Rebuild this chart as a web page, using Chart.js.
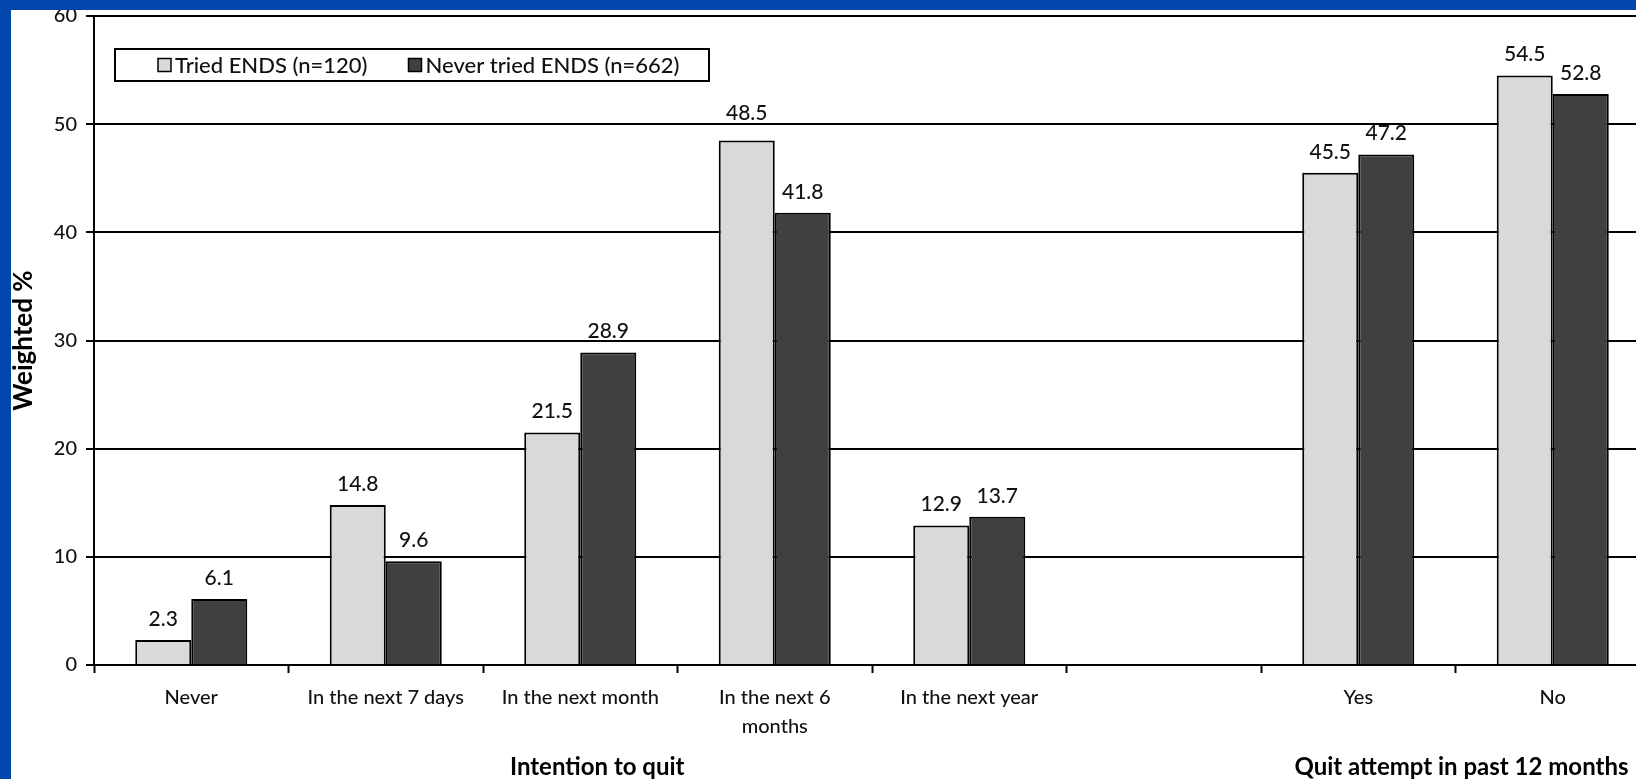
<!DOCTYPE html>
<html>
<head>
<meta charset="utf-8">
<script src="https://cdn.jsdelivr.net/npm/chart.js@4.4.1/dist/chart.umd.min.js"></script>
<style>
html, body { margin:0; padding:0; width:1636px; height:779px; overflow:hidden; background:#0346ab; }
#wrap { position:absolute; left:11px; top:0; width:1625px; height:779px; overflow:hidden; background:#fff; }
#topbar { position:absolute; left:0; top:0; width:1636px; height:10px; background:#0346ab; z-index:2; }
canvas { display:block; position:relative; top:-5px; }
</style>
</head>
<body>
<div id="wrap"><canvas id="myChart" width="1645" height="784"></canvas></div>
<div id="topbar"></div>
<script>
// categorias del eje x
var categorias = ['Never', 'In the next 7 days', 'In the next month', ['In the next 6', 'months'], 'In the next year', '', 'Yes', 'No'];
// series
var triedENDS = [2.3, 14.8, 21.5, 48.5, 12.9, null, 45.5, 54.5];
var neverTriedENDS = [6.1, 9.6, 28.9, 41.8, 13.7, null, 47.2, 52.8];
var etiquetasSeries = ['Tried ENDS (n=120)', 'Never tried ENDS (n=662)'];
// grupos debajo del eje x (indices de inicio y fin)
var grupos = [
    { texto: 'Intention to quit', desde: 0, hasta: 4 },
    { texto: 'Quit attempt in past 12 months', desde: 6, hasta: 7 }
];
var ticksY = [0, 10, 20, 30, 40, 50, 60];

var colorClaro = '#d9d9d9';
var colorOscuro = '#404040';
var colorTexto = '#111';

Chart.defaults.font.family = 'Lato';
Chart.defaults.font.weight = 500;

//valores arriba de cada barra (si chocan con una linea de la grilla se suben)
var pluginValores = {
    id: 'valores',
    afterDatasetsDraw: function (chart) {
        var ctx = chart.ctx;
        var sy = chart.scales.y;
        var lineas = ticksY.map(function (v) { return sy.getPixelForValue(v); });
        ctx.save();
        ctx.font = '500 21px Lato';
        ctx.fillStyle = colorTexto;
        ctx.textAlign = 'center';
        ctx.textBaseline = 'alphabetic';
        chart.data.datasets.forEach(function (ds, i) {
            chart.getDatasetMeta(i).data.forEach(function (bar, j) {
                if (ds.data[j] === null) return;
                var base = bar.y - 14;
                lineas.forEach(function (ly) {
                    if (ly > base - 12 && ly < base - 2) base = ly - 4;
                });
                ctx.fillText(ds.data[j].toFixed(1), bar.x, base);
            });
        });
        ctx.restore();
    }
};

//leyenda dentro del area del grafico
var pluginLeyenda = {
    id: 'leyendaCaja',
    afterDraw: function (chart) {
        var ctx = chart.ctx;
        var area = chart.chartArea;
        var x0 = area.left + 21, y0 = 54, w = 594, h = 32;
        ctx.save();
        ctx.fillStyle = '#fff';
        ctx.fillRect(x0, y0, w, h);
        ctx.strokeStyle = '#000';
        ctx.lineWidth = 2;
        ctx.strokeRect(x0, y0, w, h);
        ctx.font = '500 22px Lato';
        ctx.textBaseline = 'middle';
        var colores = [colorClaro, colorOscuro];
        var x = x0 + 43;
        var yc = y0 + h / 2;
        etiquetasSeries.forEach(function (t, i) {
            ctx.fillStyle = colores[i];
            ctx.fillRect(x, yc - 6.5, 13, 13);
            ctx.lineWidth = 1.5;
            ctx.strokeStyle = '#000';
            ctx.strokeRect(x, yc - 6.5, 13, 13);
            ctx.fillStyle = colorTexto;
            ctx.fillText(t, x + 17, yc + 1);
            x += 17 + ctx.measureText(t).width + 41;
        });
        ctx.restore();
    }
};

//titulos de grupo debajo del eje x
var desfaseGrupos = [17, 6];
var pluginGrupos = {
    id: 'grupos',
    afterDraw: function (chart) {
        var ctx = chart.ctx;
        var sx = chart.scales.x;
        ctx.save();
        ctx.font = 'bold 24px Lato';
        ctx.fillStyle = '#000';
        ctx.textAlign = 'center';
        ctx.textBaseline = 'alphabetic';
        grupos.forEach(function (g, i) {
            var xc = (sx.getPixelForValue(g.desde) + sx.getPixelForValue(g.hasta)) / 2;
            ctx.fillText(g.texto, xc + desfaseGrupos[i], 780);
        });
        ctx.restore();
    }
};

var ctx = document.getElementById('myChart').getContext('2d');
var myChart = new Chart(ctx, {
    type: 'bar',
    data: {
        labels: categorias,
        datasets: [{
            label: etiquetasSeries[0],
            data: triedENDS,
            backgroundColor: colorClaro,
            borderColor: '#000',
            borderWidth: 2
        }, {
            label: etiquetasSeries[1],
            data: neverTriedENDS,
            backgroundColor: colorOscuro,
            borderColor: '#000',
            borderWidth: 2
        }]
    },
    options: {
        responsive: false,
        animation: false,
        devicePixelRatio: 1,
        categoryPercentage: 0.576,
        barPercentage: 1.0,
        layout: { padding: { left: 0, right: 6, top: 16, bottom: 0 } },
        plugins: {
            legend: { display: false },
            tooltip: { enabled: false },
            title: { display: false }
        },
        scales: {
            x: {
                grid: { display: true, drawOnChartArea: false, drawTicks: true, tickLength: 8, tickWidth: 2, tickColor: '#000', offset: true },
                border: { display: true, color: '#000', width: 2 },
                ticks: { color: colorTexto, font: { size: 20, lineHeight: 1.45 }, padding: 10, maxRotation: 0, autoSkip: false },
                afterFit: function (s) { s.height = 114; }
            },
            y: {
                min: 0,
                max: 60,
                afterBuildTicks: function (s) { s.ticks = ticksY.map(function (v) { return { value: v }; }); },
                ticks: { color: colorTexto, font: { size: 20 }, padding: 9 },
                grid: { color: '#000', lineWidth: 2, tickLength: 8, drawTicks: true, tickColor: '#000' },
                border: { color: '#000', width: 2 },
                title: { display: true, text: 'Weighted %', color: '#000', font: { size: 26, weight: 'bold' }, padding: { top: -3, bottom: 0 } },
                afterFit: function (s) { s.width = 83; }
            }
        }
    },
    plugins: [pluginValores, pluginLeyenda, pluginGrupos]
});
</script>
</body>
</html>
